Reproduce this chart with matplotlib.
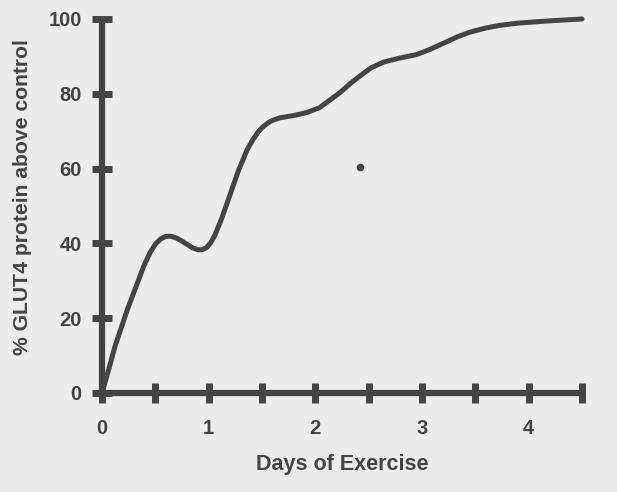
import matplotlib
matplotlib.use("Agg")
import matplotlib.pyplot as plt

days = [0.0, 0.06, 0.12, 0.24, 0.32, 0.39, 0.45, 0.5, 0.55, 0.6, 0.65, 0.7,
        0.75, 0.8, 0.85, 0.9, 0.94, 0.98, 1.02, 1.06, 1.12, 1.2, 1.28, 1.36,
        1.42, 1.47, 1.51, 1.56, 1.6, 1.67, 1.8, 1.92, 2.04, 2.13, 2.23, 2.33,
        2.42, 2.52, 2.64, 2.8, 2.95, 3.07, 3.2, 3.33, 3.45, 3.6, 3.73, 3.9,
        4.04, 4.25, 4.5]
glut4 = [0.0, 6.0, 12.3, 22.5, 28.5, 33.8, 37.5, 39.8, 41.2, 41.9, 41.9, 41.4,
         40.6, 39.7, 38.8, 38.3, 38.3, 38.9, 40.2, 42.3, 46.5, 53.0, 59.5, 65.0,
         68.0, 70.0, 71.2, 72.3, 72.9, 73.6, 74.2, 75.0, 76.3, 78.2, 80.3, 82.8,
         84.8, 86.9, 88.5, 89.6, 90.5, 91.8, 93.5, 95.2, 96.5, 97.6, 98.3, 98.9,
         99.2, 99.6, 100.0]
dot_x = [2.42]
dot_y = [60.4]

x_major = [0, 1, 2, 3, 4]
x_minor = [0.5, 1.5, 2.5, 3.5, 4.5]
y_ticks = [0, 20, 40, 60, 80, 100]

ink = "#444444"
bg = "#ececec"

plt.rcParams['font.family'] = ['Liberation Sans', 'DejaVu Sans']

fig = plt.figure(figsize=(6.17, 4.92), dpi=100, facecolor=bg)
ax = fig.add_axes([102/617, 1 - 393/492, 480/617, 374/492])
ax.set_facecolor(bg)

ax.plot(days, glut4, color=ink, lw=3.6, solid_capstyle='round',
        solid_joinstyle='round', clip_on=False, zorder=3)
ax.plot(dot_x, dot_y, 'o', color=ink, ms=5.5, mec='none', zorder=3)

ax.set_xlim(0, 4.5)
ax.set_ylim(0, 100)

for s in ['top', 'right']:
    ax.spines[s].set_visible(False)
for s in ['left', 'bottom']:
    ax.spines[s].set_color(ink)
    ax.spines[s].set_linewidth(4.5)
    ax.spines[s].set_capstyle('round')
ax.spines['left'].set_bounds(0, 100)
ax.spines['bottom'].set_bounds(0, 4.5)

ax.set_xticks(x_major)
ax.set_xticks(x_minor, minor=True)
ax.set_yticks(y_ticks)
ax.tick_params(axis='both', which='both', direction='inout', length=15, width=5,
               color=ink, labelcolor=ink)
ax.tick_params(axis='x', which='major', pad=11)
ax.tick_params(axis='y', which='major', pad=7)
for lab in ax.get_xticklabels() + ax.get_yticklabels():
    lab.set_fontsize(14.5)
    lab.set_fontweight('bold')

ax.set_xlabel('Days of Exercise', fontsize=15.5, fontweight='bold', color=ink, labelpad=12)
ax.set_ylabel('% GLUT4 protein above control', fontsize=15.2, fontweight='bold',
              color=ink)
ax.yaxis.set_label_coords(-0.145, 0.525)

fig.savefig('out.png', dpi=100, facecolor=bg)
